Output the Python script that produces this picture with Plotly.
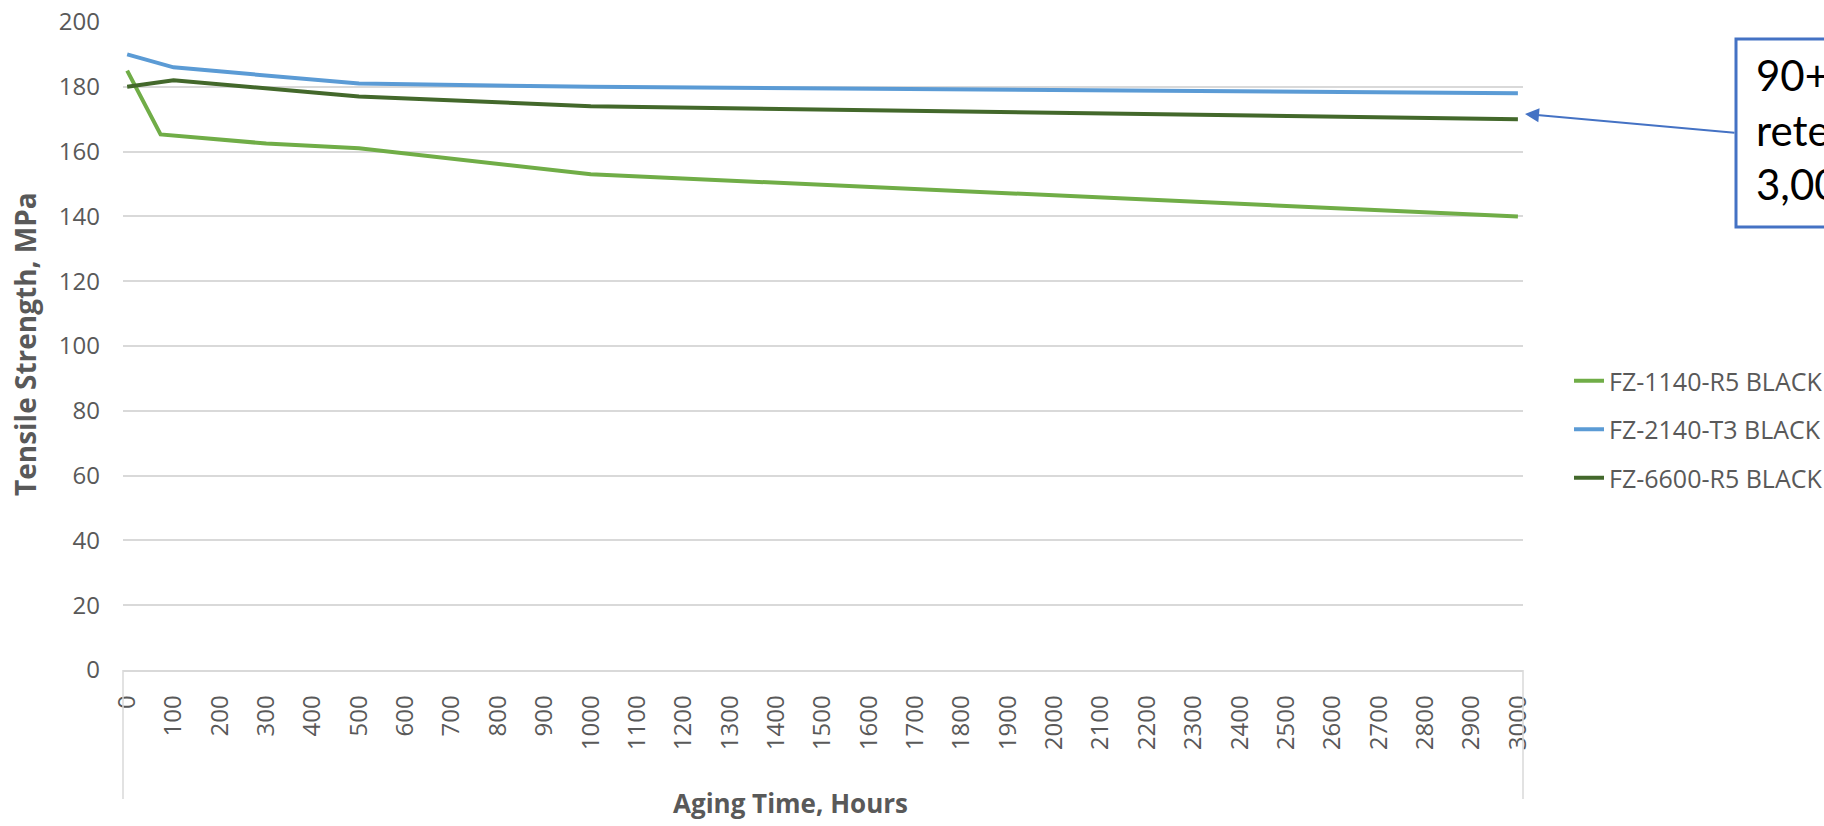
import plotly.graph_objects as go

# Tensile strength (MPa) vs. aging time (hours) for three black compounds
hours_1140 = [0, 72, 300, 500, 1000, 3000]
strength_1140 = [185, 165.3, 162.5, 161, 153, 140]

hours_2140 = [0, 100, 500, 1000, 3000]
strength_2140 = [190, 186, 181, 180, 178]

hours_6600 = [0, 100, 500, 1000, 3000]
strength_6600 = [180, 182, 177, 174, 170]

series_names = ["FZ-1140-R5 BLACK", "FZ-2140-T3 BLACK", "FZ-6600-R5 BLACK"]
series_colors = ["#70AD47", "#5B9BD5", "#43682B"]

x_ticks = list(range(0, 3001, 100))
y_ticks = list(range(0, 201, 20))

W, H = 1824, 826
L, R, T, B = 123, 301, 22, 156
PW, PH = W - L - R, H - T - B


def px_x(px):
    return (px - L) / PW


def px_y(py):
    return (H - B - py) / PH


fig = go.Figure()
for i, (xs, ys) in enumerate([(hours_1140, strength_1140),
                              (hours_2140, strength_2140),
                              (hours_6600, strength_6600)]):
    fig.add_trace(go.Scatter(
        x=xs, y=ys, mode="lines", name=series_names[i],
        line=dict(color=series_colors[i], width=4),
        legendgroup=f"g{i}",
    ))

axis_font = dict(family="Open Sans, Noto Sans, sans-serif", size=24, color="#595959")

fig.update_layout(
    template="none",
    width=W, height=H,
    margin=dict(l=L, r=R, t=T, b=B, pad=0, autoexpand=False),
    paper_bgcolor="white", plot_bgcolor="white",
    showlegend=True,
    legend=dict(
        x=px_x(1569), y=px_y(358), xanchor="left", yanchor="top",
        font=dict(family="Open Sans, Noto Sans, sans-serif", size=25, color="#595959"),
        tracegroupgap=13, itemwidth=30, bgcolor="rgba(0,0,0,0)", borderwidth=0,
    ),
    xaxis=dict(
        range=[-9, 3011], tickmode="array", tickvals=x_ticks,
        ticktext=[str(v) for v in x_ticks], tickangle=-90,
        tickfont=axis_font, showgrid=False, zeroline=False,
        showline=True, linecolor="#D9D9D9", linewidth=1.5,
        ticks="", ticklabelstandoff=14, automargin=False,
    ),
    yaxis=dict(
        range=[0, 200], tickmode="array", tickvals=y_ticks,
        tickfont=axis_font, showgrid=True, gridcolor="#D9D9D9", gridwidth=1.5,
        zeroline=False, showline=False, ticks="", ticklabelstandoff=22,
        automargin=False,
    ),
)

# side rules framing the category label band
for xp in (0, 1):
    fig.add_shape(type="line", xref="paper", yref="paper",
                  x0=xp, x1=xp, y0=0, y1=px_y(799),
                  line=dict(color="#D9D9D9", width=1.5))

fig.add_annotation(text="<b>Tensile Strength, MPa</b>", textangle=-90,
                   xref="paper", yref="paper", x=px_x(25), y=px_y(344),
                   xanchor="center", yanchor="middle", showarrow=False,
                   font=dict(family="Open Sans, Noto Sans, sans-serif", size=28, color="#595959"))
fig.add_annotation(text="<b>Aging Time, Hours</b>",
                   xref="paper", yref="paper", x=px_x(790), y=px_y(803),
                   xanchor="center", yanchor="middle", showarrow=False,
                   font=dict(family="Open Sans, Noto Sans, sans-serif", size=26, color="#595959"))

# callout box with arrow to the FZ-6600 end point
fig.add_shape(type="rect", xref="paper", yref="paper",
              x0=px_x(1736), x1=px_x(1900), y0=px_y(227), y1=px_y(39),
              line=dict(color="#4472C4", width=3), fillcolor="white")
fig.add_annotation(text="90+% strength<br>retention after<br>3,000 hours",
                   xref="paper", yref="paper", x=px_x(1754), y=px_y(48),
                   xanchor="left", yanchor="top", align="left", showarrow=False,
                   font=dict(family="Lato, sans-serif", size=42, color="black"))
fig.add_annotation(text="", xref="paper", yref="paper",
                   x=px_x(1525), y=px_y(114), ax=211, ay=19,
                   showarrow=True, arrowhead=2, arrowsize=1.4, arrowwidth=2,
                   arrowcolor="#4472C4")

fig.write_html("out.html")
